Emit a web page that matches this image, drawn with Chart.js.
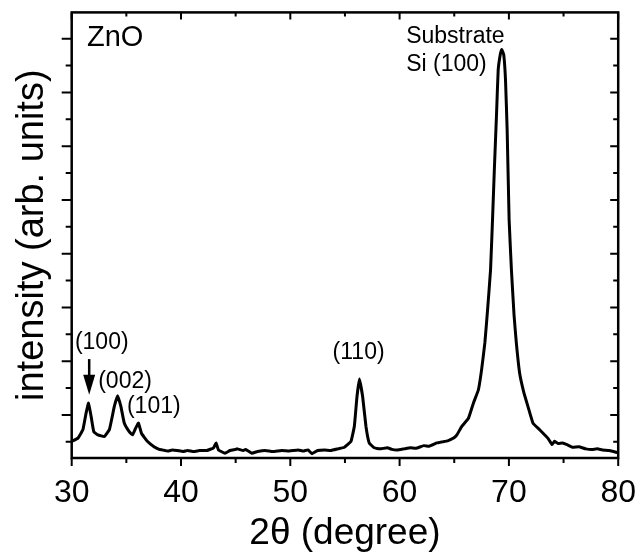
<!DOCTYPE html>
<html>
<head>
<meta charset="utf-8">
<script src="https://cdn.jsdelivr.net/npm/chart.js@4.4.0/dist/chart.umd.min.js"></script>
<style>
  html, body { margin: 0; padding: 0; background: #fff; }
  #wrap { width: 644px; height: 552px; }
</style>
</head>
<body>
<div id="wrap"><canvas id="xrd" width="644" height="552"></canvas></div>
<script>
// XRD pattern of ZnO film on Si (arb. units)
const twoTheta = [
  30.0, 30.57, 31.03, 31.32, 31.54, 31.78, 32.02, 32.39, 32.99, 33.45,
  33.90, 34.20, 34.50, 34.81, 35.26, 35.56, 35.86, 36.11, 36.38, 36.92,
  37.53, 38.0, 38.28, 38.8, 39.2, 39.65, 40.2, 40.6, 41.16, 41.7,
  42.37, 42.98, 43.21, 43.43, 44.03, 44.48, 45.0, 45.15, 45.70, 45.9,
  46.48, 47.0, 47.70, 48.4, 49.20, 49.9, 50.72, 51.2, 51.62, 51.99,
  52.5, 53.14, 53.7, 54.35, 54.95, 55.55, 55.86, 56.10, 56.32, 56.62,
  56.92, 57.22, 57.68, 58.2, 58.88, 59.3, 59.79, 60.4, 61.00, 61.5,
  62.21, 62.7, 63.42, 63.9, 64.4, 64.94, 65.24, 65.69, 66.30, 66.75,
  67.21, 67.50, 67.80, 68.05, 68.32, 68.50, 68.66, 68.87, 69.02, 69.23,
  69.35, 69.53, 69.69, 69.84, 70.02, 70.23, 70.47, 70.68, 70.98, 71.34,
  71.74, 72.20, 72.79, 73.56, 73.95, 74.16, 74.5, 74.92, 75.4, 75.83,
  76.4, 77.04, 77.6, 78.1, 78.55, 79.2, 79.91
];
const intensity = [
  0.51, 0.57, 0.73, 1.04, 1.22, 0.97, 0.69, 0.63, 0.60, 0.73,
  1.16, 1.36, 1.16, 0.85, 0.69, 0.63, 0.76, 0.85, 0.66, 0.51,
  0.41, 0.36, 0.35, 0.33, 0.35, 0.34, 0.32, 0.34, 0.32, 0.34,
  0.34, 0.39, 0.48, 0.35, 0.29, 0.34, 0.36, 0.37, 0.34, 0.36,
  0.29, 0.32, 0.34, 0.32, 0.34, 0.33, 0.35, 0.33, 0.35, 0.28,
  0.34, 0.35, 0.34, 0.37, 0.40, 0.51, 0.79, 1.34, 1.67, 1.34,
  0.79, 0.48, 0.39, 0.37, 0.39, 0.36, 0.35, 0.37, 0.39, 0.38,
  0.43, 0.42, 0.48, 0.50, 0.52, 0.57, 0.63, 0.79, 0.94, 1.22,
  1.47, 1.84, 2.34, 2.96, 3.70, 4.63, 5.52, 6.61, 7.42, 7.73,
  7.80, 7.70, 7.23, 6.30, 4.63, 3.70, 2.86, 2.34, 1.78, 1.44,
  1.16, 0.85, 0.73, 0.57, 0.45, 0.51, 0.47, 0.48, 0.44, 0.40,
  0.41, 0.37, 0.36, 0.37, 0.35, 0.34, 0.30
];
const xTickLabels = [30, 40, 50, 60, 70, 80];
const xMinorTicks = [35, 45, 55, 65, 75];
const yMajorTicks = [1, 2, 3, 4, 5, 6, 7, 8];
const yMinorTicks = [0.5, 1.5, 2.5, 3.5, 4.5, 5.5, 6.5, 7.5];

const FONT = "'Liberation Sans', Arial, sans-serif";

// frame, tick marks (out on left/bottom, in on top/right) and peak labels
const framePlugin = {
  id: 'frame',
  afterDraw(chart) {
    const ctx = chart.ctx;
    const a = chart.chartArea;
    const xs = chart.scales.x, ys = chart.scales.y;
    ctx.save();
    ctx.strokeStyle = '#000';
    ctx.lineWidth = 2.5;
    ctx.strokeRect(a.left, a.top, a.right - a.left, a.bottom - a.top);

    ctx.lineWidth = 2;
    ctx.beginPath();
    xTickLabels.forEach(v => {
      const x = xs.getPixelForValue(v);
      ctx.moveTo(x, a.bottom); ctx.lineTo(x, a.bottom + 8);
      ctx.moveTo(x, a.top); ctx.lineTo(x, a.top + 7);
    });
    xMinorTicks.forEach(v => {
      const x = xs.getPixelForValue(v);
      ctx.moveTo(x, a.bottom); ctx.lineTo(x, a.bottom + 5);
      ctx.moveTo(x, a.top); ctx.lineTo(x, a.top + 4);
    });
    yMajorTicks.forEach(v => {
      const y = ys.getPixelForValue(v);
      ctx.moveTo(a.left - 10, y); ctx.lineTo(a.left, y);
      ctx.moveTo(a.right - 8, y); ctx.lineTo(a.right, y);
    });
    yMinorTicks.forEach(v => {
      const y = ys.getPixelForValue(v);
      ctx.moveTo(a.left - 6, y); ctx.lineTo(a.left, y);
      ctx.moveTo(a.right - 5, y); ctx.lineTo(a.right, y);
    });
    ctx.stroke();

    // text annotations
    ctx.fillStyle = '#000';
    ctx.textBaseline = 'middle';
    ctx.font = '29px ' + FONT;
    ctx.textAlign = 'left';
    ctx.fillText('ZnO', xs.getPixelForValue(31.4), ys.getPixelForValue(8.01));

    ctx.font = '23px ' + FONT;
    ctx.fillText('Substrate', xs.getPixelForValue(60.6), ys.getPixelForValue(8.03));
    ctx.fillText('Si (100)', xs.getPixelForValue(60.6), ys.getPixelForValue(7.51));
    ctx.textAlign = 'center';
    ctx.fillText('(110)', xs.getPixelForValue(56.25), ys.getPixelForValue(2.16));
    ctx.fillText('(100)', xs.getPixelForValue(32.75), ys.getPixelForValue(2.34));
    ctx.fillText('(002)', xs.getPixelForValue(34.88), ys.getPixelForValue(1.62));
    ctx.fillText('(101)', xs.getPixelForValue(37.51), ys.getPixelForValue(1.15));

    // arrow pointing to (100)
    const ax = xs.getPixelForValue(31.6);
    const y0 = ys.getPixelForValue(2.04), y1 = ys.getPixelForValue(1.375);
    ctx.lineWidth = 2.5;
    ctx.beginPath();
    ctx.moveTo(ax, y0); ctx.lineTo(ax, y1 - 15);
    ctx.stroke();
    ctx.beginPath();
    ctx.moveTo(ax - 6, y1 - 20); ctx.lineTo(ax + 6, y1 - 20); ctx.lineTo(ax, y1);
    ctx.closePath();
    ctx.fill();
    ctx.restore();
  }
};

new Chart(document.getElementById('xrd'), {
  type: 'line',
  data: {
    datasets: [{
      data: twoTheta.map((t, i) => ({ x: t, y: intensity[i] })),
      borderColor: '#000',
      borderWidth: 3,
      pointRadius: 0,
      tension: 0.1,
      fill: false
    }]
  },
  options: {
    responsive: false,
    devicePixelRatio: 1,
    animation: false,
    layout: { padding: { top: 12.4, right: 21.3, left: 0, bottom: 0 } },
    plugins: { legend: { display: false }, tooltip: { enabled: false } },
    scales: {
      x: {
        type: 'linear',
        min: 30,
        max: 80,
        grid: { display: false },
        border: { display: false },
        ticks: {
          stepSize: 10,
          color: '#000',
          padding: 8,
          maxRotation: 0,
          font: { family: FONT, size: 32 }
        },
        title: {
          display: true,
          text: '2θ (degree)',
          color: '#000',
          font: { family: FONT, size: 37, lineHeight: 1 },
          padding: { top: 0, bottom: 0 }
        },
        afterFit: s => { s.height = 94; }
      },
      y: {
        min: 0.2,
        max: 8.49,
        grid: { display: false },
        border: { display: false },
        ticks: { display: false },
        title: {
          display: true,
          text: 'intensity (arb. units)',
          color: '#000',
          font: { family: FONT, size: 38, lineHeight: 1.2 },
          padding: { top: 10, bottom: 0 }
        },
        afterFit: s => { s.width = 71.7; }
      }
    }
  },
  plugins: [framePlugin]
});
</script>
</body>
</html>
